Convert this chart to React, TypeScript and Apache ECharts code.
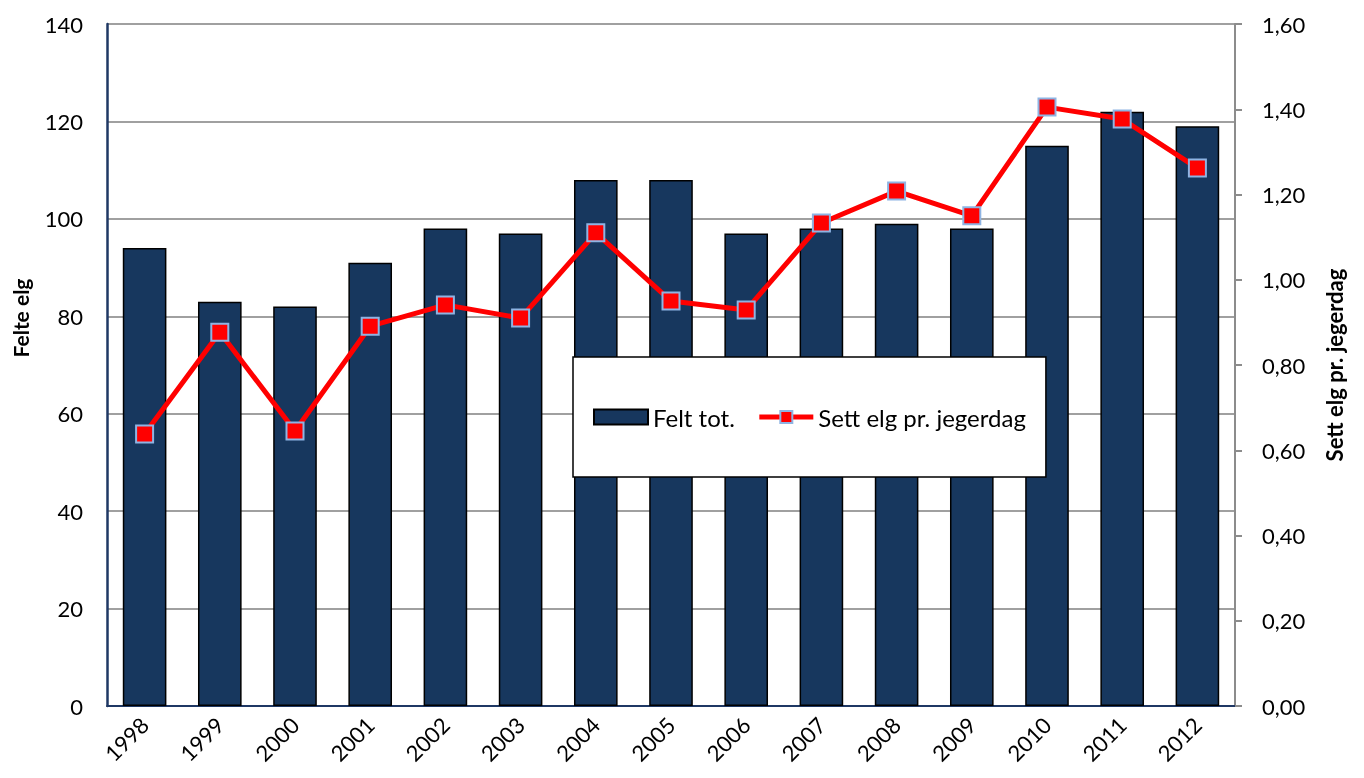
import React, { useEffect, useRef } from "react";
import * as echarts from "echarts";

const years = ["1998", "1999", "2000", "2001", "2002", "2003", "2004", "2005", "2006", "2007", "2008", "2009", "2010", "2011", "2012"];
const feltTot = [94, 83, 82, 91, 98, 97, 108, 108, 97, 98, 99, 98, 115, 122, 119];
const settElg = [0.638, 0.877, 0.645, 0.891, 0.941, 0.91, 1.11, 0.95, 0.929, 1.133, 1.208, 1.15, 1.405, 1.377, 1.262];

const FONT = "Lato";

export default function App() {
  const ref = useRef<HTMLDivElement>(null);
  useEffect(() => {
    const chart = echarts.init(ref.current!, null, { renderer: "svg" });
    chart.setOption({
      animation: false,
      textStyle: { fontFamily: FONT },
      grid: { left: 107, right: 129, top: 24, bottom: 72, containLabel: false },
      legend: {
        left: 573,
        top: 357,
        padding: [48, 20, 48, 20],
        backgroundColor: "#ffffff",
        borderColor: "#000000",
        borderWidth: 1.5,
        itemWidth: 54,
        itemHeight: 15,
        itemGap: 22,
        lineStyle: { width: 5 },
        textStyle: { fontFamily: FONT, fontSize: 24, color: "#000" },
        data: [
          { name: "Felt tot.", icon: "rect" },
          { name: "Sett elg pr. jegerdag" },
        ],
      },
      xAxis: [
        {
          type: "category",
          data: years,
          axisLine: { lineStyle: { color: "#8c8c8c", width: 2 } },
          axisTick: { show: false },
          axisLabel: { rotate: 45, fontSize: 22, color: "#000", margin: 15, fontFamily: FONT },
        },
        {
          type: "category",
          data: years,
          position: "top",
          axisLine: { lineStyle: { color: "#1F3864", width: 2 } },
          axisTick: { show: false },
          axisLabel: { show: false },
        },
      ],
      yAxis: [
        {
          type: "value",
          min: 0,
          max: 140,
          interval: 20,
          name: "Felte elg",
          nameLocation: "middle",
          nameGap: 76,
          nameTextStyle: { fontSize: 21, fontWeight: "bold", color: "#000", fontFamily: FONT, padding: [0, 0, 0, 94] },
          axisLine: { show: true, lineStyle: { color: "#1F3864", width: 2.5 } },
          axisTick: { show: false },
          axisLabel: { fontSize: 22, color: "#000", margin: 24, fontFamily: FONT },
          splitLine: { lineStyle: { color: "#A0A0A0", width: 2 } },
        },
        {
          type: "value",
          min: 0,
          max: 1.6,
          interval: 0.2,
          position: "right",
          name: "Sett elg pr. jegerdag",
          nameLocation: "middle",
          nameGap: 88,
          nameRotate: 90,
          nameTextStyle: { fontSize: 22, fontWeight: "bold", color: "#000", fontFamily: FONT },
          axisLine: { show: true, lineStyle: { color: "#8c8c8c", width: 2 } },
          axisTick: { show: true, length: 7, lineStyle: { color: "#8c8c8c", width: 2 } },
          axisLabel: {
            fontSize: 22,
            color: "#000",
            margin: 27,
            fontFamily: FONT,
            formatter: (v: number) => v.toFixed(2).replace(".", ","),
          },
          splitLine: { show: false },
        },
      ],
      series: [
        {
          name: "Felt tot.",
          type: "bar",
          data: feltTot,
          barWidth: "58%",
          itemStyle: { color: "#17375E", borderColor: "#000000", borderWidth: 1.5 },
          yAxisIndex: 0,
        },
        {
          name: "Sett elg pr. jegerdag",
          type: "line",
          data: settElg,
          yAxisIndex: 1,
          symbol: "rect",
          symbolSize: 17,
          lineStyle: { color: "#FF0000", width: 5 },
          itemStyle: { color: "#FF0000", borderColor: "#8EB4E3", borderWidth: 2 },
          z: 5,
        },
      ],
    });
    return () => chart.dispose();
  }, []);
  return <div ref={ref} style={{ position: "fixed", left: 0, top: 0, width: 1364, height: 778 }} />;
}
